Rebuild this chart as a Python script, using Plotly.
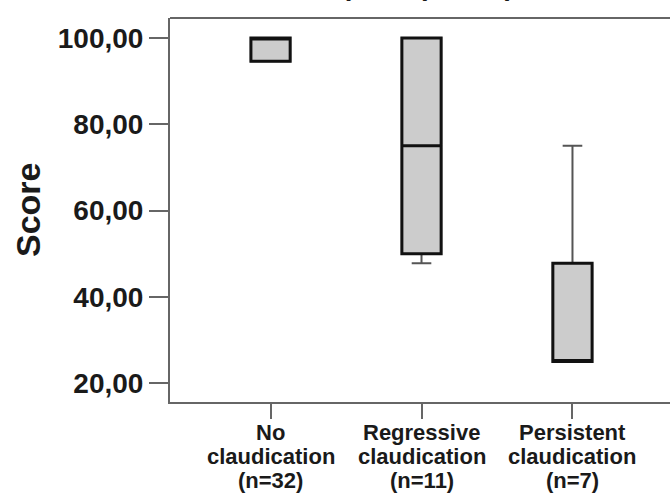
import plotly.graph_objects as go

categories = ["No claudication", "Regressive claudication", "Persistent claudication"]
label_lines = [["No", "claudication", "(n=32)"],
               ["Regressive", "claudication", "(n=11)"],
               ["Persistent", "claudication", "(n=7)"]]
q1 = [94.6, 50.0, 25.0]
median = [100.0, 75.0, 25.0]
q3 = [100.0, 100.0, 47.8]
lowerfence = [94.6, 47.8, 25.0]
upperfence = [100.0, 100.0, 75.0]
y_tickvals = [20, 40, 60, 80, 100]
y_ticktext = ["20,00", "40,00", "60,00", "80,00", "100,00"]
title_text = "SF36, (Pain (Score)"
y_title = "Score"

W, H = 670, 494
L, R, T, B = 170, 0, 18, 92
plot_h = H - T - B

fig = go.Figure()
# whiskers (thin gray)
fig.add_trace(go.Box(
    x=categories, q1=q1, median=median, q3=q3,
    lowerfence=lowerfence, upperfence=upperfence,
    fillcolor="#cccccc", line=dict(color="#555555", width=2),
    width=0.26, whiskerwidth=0.5, boxpoints=False, hoverinfo="skip",
    showlegend=False,
))
# box body (thick black outline)
fig.add_trace(go.Box(
    x=categories, q1=q1, median=median, q3=q3,
    lowerfence=q1, upperfence=q3,
    fillcolor="#cccccc", line=dict(color="#111111", width=3),
    width=0.26, whiskerwidth=0.0, boxpoints=False, hoverinfo="skip",
    showlegend=False,
))

font_family = "Liberation Sans, Arial, sans-serif"
annotations = []
line_centers_px = [432, 456, 480]
for cat, lines in zip(categories, label_lines):
    for txt, py in zip(lines, line_centers_px):
        annotations.append(dict(
            x=cat, xref="x", y=(H - B - py) / plot_h, yref="paper",
            text=txt, showarrow=False, xanchor="center", yanchor="middle",
            font=dict(family=font_family, size=22, color="#1a1a1a", weight="bold"),
        ))
annotations.append(dict(
    x=(28 - L) / (W - L - R), xref="paper", y=0.5, yref="paper",
    text=y_title, textangle=-90, showarrow=False,
    xanchor="center", yanchor="middle",
    font=dict(family=font_family, size=34, color="#1a1a1a", weight="bold"),
))
annotations.append(dict(
    x=(386 - L) / (W - L - R), xref="paper", y=(H - B - 3) / plot_h, yref="paper",
    text=title_text, showarrow=False, xanchor="center", yanchor="bottom",
    font=dict(family=font_family, size=28, color="#1a1a1a", weight="bold"),
))

fig.update_layout(
    width=W, height=H, margin=dict(l=L, r=R, t=T, b=B),
    paper_bgcolor="white", plot_bgcolor="white",
    annotations=annotations,
    boxmode="overlay",
    shapes=[dict(type="line", xref="paper", yref="paper", x0=0, x1=1, y0=1, y1=1,
                 line=dict(color="#666666", width=2))],
    xaxis=dict(
        type="category", range=[-0.666, 2.646],
        showline=True, linecolor="#666666", linewidth=2, mirror=False,
        ticks="outside", ticklen=15, tickwidth=2, tickcolor="#666666",
        showticklabels=False, showgrid=False, zeroline=False, fixedrange=True,
    ),
    yaxis=dict(
        range=[15.6, 104.64],
        tickvals=y_tickvals, ticktext=y_ticktext,
        showline=True, linecolor="#666666", linewidth=2, mirror=False,
        ticks="outside", ticklen=19, tickwidth=2, tickcolor="#666666",
        tickfont=dict(family=font_family, size=28, color="#1a1a1a", weight="bold"),
        showgrid=False, zeroline=False, fixedrange=True,
    ),
)

fig.write_html(
    "out.html",
    config={"displayModeBar": False},
    post_script="document.documentElement.style.overflow='hidden';document.body.style.overflow='hidden';document.body.style.margin='0';",
)
